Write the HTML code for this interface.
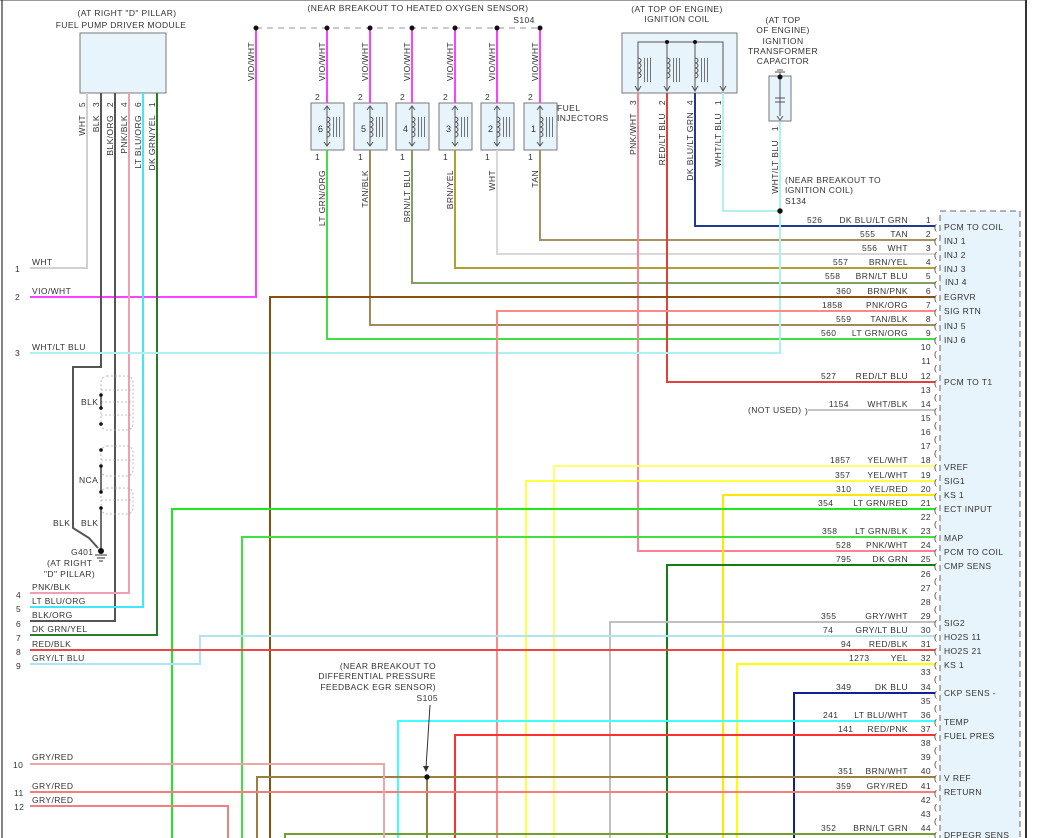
<!DOCTYPE html>
<html><head><meta charset="utf-8"><style>
html,body{margin:0;padding:0;background:#fff}
svg{display:block}
text{font-family:"Liberation Sans",Arial,sans-serif;font-size:8.5px;fill:#333;letter-spacing:0.4px}
.w{fill:none;stroke-width:2}
</style></head><body>
<svg width="1042" height="838" viewBox="0 0 1042 838" xmlns="http://www.w3.org/2000/svg">
<rect x="0" y="0" width="1042" height="838" fill="#fff"/>
<line x1="0" y1="0.5" x2="1027" y2="0.5" stroke="#999" stroke-width="1"/>
<line x1="2" y1="0" x2="2" y2="838" stroke="#333" stroke-width="1.2"/>
<line x1="1026" y1="0" x2="1026" y2="838" stroke="#333" stroke-width="2"/>

<rect x="940" y="211" width="80" height="640" fill="#e8f4fc" stroke="#888" stroke-width="1.3" stroke-dasharray="6,4"/>

<text x="127" y="16" text-anchor="middle">(AT RIGHT "D" PILLAR)</text>
<text x="121" y="28" text-anchor="middle">FUEL PUMP DRIVER MODULE</text>
<rect x="80" y="33" width="86" height="60" fill="#e8f4fc" stroke="#777" stroke-width="1"/>

<text x="418" y="11" text-anchor="middle">(NEAR BREAKOUT TO HEATED OXYGEN SENSOR)</text>
<text x="524" y="23" text-anchor="middle">S104</text>
<line x1="256" y1="28" x2="540" y2="28" stroke="#aaa" stroke-width="1.3" stroke-dasharray="6,5"/>

<text x="677" y="12" text-anchor="middle">(AT TOP OF ENGINE)</text>
<text x="677" y="22" text-anchor="middle">IGNITION COIL</text>
<rect x="622" y="33" width="115" height="60" fill="#e8f4fc" stroke="#777" stroke-width="1"/>
<polyline points="638,90 638,42 723,42 723,90" fill="none" stroke="#555" stroke-width="1"/>
<line x1="667" y1="42" x2="667" y2="90" stroke="#555" stroke-width="1"/>
<line x1="695" y1="42" x2="695" y2="90" stroke="#555" stroke-width="1"/>
<circle cx="667" cy="42" r="2" fill="#111"/><circle cx="695" cy="42" r="2" fill="#111"/>
<g fill="none" stroke="#555" stroke-width="1">
<path d="M638 58 a3 2.5 0 0 1 0 5 a3 2.5 0 0 1 0 5 a3 2.5 0 0 1 0 5 a3 2.5 0 0 1 0 5"/>
<path d="M667 58 a3 2.5 0 0 1 0 5 a3 2.5 0 0 1 0 5 a3 2.5 0 0 1 0 5 a3 2.5 0 0 1 0 5"/>
<path d="M695 58 a3 2.5 0 0 1 0 5 a3 2.5 0 0 1 0 5 a3 2.5 0 0 1 0 5 a3 2.5 0 0 1 0 5"/>
<path stroke-width="0.8" d="M644.5 58v24M647.5 58v24M650.5 58v24M673.5 58v24M676.5 58v24M679.5 58v24M701.5 58v24M704.5 58v24M707.5 58v24"/>
<path d="M635 86l3 5l3 -5M664 86l3 5l3 -5M692 86l3 5l3 -5M720 86l3 5l3 -5"/>
</g>

<text x="783" y="23" text-anchor="middle">(AT TOP</text>
<text x="783" y="33" text-anchor="middle">OF ENGINE)</text>
<text x="783" y="44" text-anchor="middle">IGNITION</text>
<text x="783" y="54" text-anchor="middle">TRANSFORMER</text>
<text x="783" y="64" text-anchor="middle">CAPACITOR</text>
<rect x="769" y="76" width="22" height="45" fill="#e8f4fc" stroke="#777" stroke-width="1"/>
<g stroke="#555" stroke-width="1" fill="none">
<path d="M780 72v44M775 98h10M775 102h10M775 72h10M777 70h6M777 116l3 4l3 -4"/>
</g>
<circle cx="780" cy="77" r="2.5" fill="#111"/>
<text x="785" y="183">(NEAR BREAKOUT TO</text>
<text x="785" y="193">IGNITION COIL)</text>
<text x="785" y="204">S134</text>

<g fill="#e8f4fc" stroke="#777" stroke-width="1">
<rect x="311" y="103" width="33" height="47"/>
<rect x="354" y="103" width="33" height="47"/>
<rect x="396" y="103" width="33" height="47"/>
<rect x="439" y="103" width="33" height="47"/>
<rect x="481" y="103" width="33" height="47"/>
<rect x="524" y="103" width="33" height="47"/>
</g>
<g fill="none" stroke="#555" stroke-width="1">
<path d="M327 106v40M370 106v40M412 106v40M455 106v40M497 106v40M540 106v40"/>
<path d="M327 117 a3 2.5 0 0 1 0 5 a3 2.5 0 0 1 0 5 a3 2.5 0 0 1 0 5 a3 2.5 0 0 1 0 5"/>
<path d="M370 117 a3 2.5 0 0 1 0 5 a3 2.5 0 0 1 0 5 a3 2.5 0 0 1 0 5 a3 2.5 0 0 1 0 5"/>
<path d="M412 117 a3 2.5 0 0 1 0 5 a3 2.5 0 0 1 0 5 a3 2.5 0 0 1 0 5 a3 2.5 0 0 1 0 5"/>
<path d="M455 117 a3 2.5 0 0 1 0 5 a3 2.5 0 0 1 0 5 a3 2.5 0 0 1 0 5 a3 2.5 0 0 1 0 5"/>
<path d="M497 117 a3 2.5 0 0 1 0 5 a3 2.5 0 0 1 0 5 a3 2.5 0 0 1 0 5 a3 2.5 0 0 1 0 5"/>
<path d="M540 117 a3 2.5 0 0 1 0 5 a3 2.5 0 0 1 0 5 a3 2.5 0 0 1 0 5 a3 2.5 0 0 1 0 5"/>
<path stroke-width="0.8" d="M333.5 117v20M336.5 117v20M339.5 117v20M376.5 117v20M379.5 117v20M382.5 117v20M418.5 117v20M421.5 117v20M424.5 117v20M461.5 117v20M464.5 117v20M467.5 117v20M503.5 117v20M506.5 117v20M509.5 117v20M546.5 117v20M549.5 117v20M552.5 117v20"/>
<path d="M324 110l3 -4l3 4M367 110l3 -4l3 4M409 110l3 -4l3 4M452 110l3 -4l3 4M494 110l3 -4l3 4M537 110l3 -4l3 4"/>
<path d="M324 142l3 4l3 -4M367 142l3 4l3 -4M409 142l3 4l3 -4M452 142l3 4l3 -4M494 142l3 4l3 -4M537 142l3 4l3 -4"/>
</g>
<text x="318" y="132" style="font-size:9px">6</text><text x="361" y="132" style="font-size:9px">5</text>
<text x="403" y="132" style="font-size:9px">4</text><text x="446" y="132" style="font-size:9px">3</text>
<text x="488" y="132" style="font-size:9px">2</text><text x="531" y="132" style="font-size:9px">1</text>
<g>
<text x="315" y="100">2</text><text x="358" y="100">2</text><text x="400" y="100">2</text><text x="443" y="100">2</text><text x="485" y="100">2</text><text x="528" y="100">2</text>
<text x="315" y="160">1</text><text x="358" y="160">1</text><text x="400" y="160">1</text><text x="443" y="160">1</text><text x="485" y="160">1</text><text x="528" y="160">1</text>
</g>
<text x="557" y="111">FUEL</text><text x="557" y="121">INJECTORS</text>

<g class="w">
<polyline class="w" stroke="#ff40ff" points="256,28 256,297 30,297"/>
<path class="w" stroke="#ff40ff" d="M327 28V103M370 28V103M412 28V103M455 28V103M497 28V103M540 28V103"/>
<polyline class="w" stroke="#d0d0d0" points="87,93 87,268 30,268"/>
<polyline class="w" stroke="#555" points="101,93 101,367 73,367 73,528 89,538 98,548"/>
<polyline class="w" stroke="#e0904a" stroke-width="3" points="115,93 115,621 30,621"/>
<polyline class="w" stroke="#555" stroke-width="1.5" points="115,93 115,621 30,621"/>
<polyline class="w" stroke="#f0a0b0" points="129,93 129,593 30,593"/>
<polyline class="w" stroke="#ffb060" stroke-width="3" points="143,93 143,607 30,607"/>
<polyline class="w" stroke="#40e8f8" stroke-width="1.5" points="143,93 143,607 30,607"/>
<polyline class="w" stroke="#e8e840" stroke-width="3" points="157,93 157,635 30,635"/>
<polyline class="w" stroke="#2a7a2a" stroke-width="1.5" points="157,93 157,635 30,635"/>
<polyline class="w" stroke="#40e040" points="327,150 327,339 935,339"/>
<polyline class="w" stroke="#a08a5a" points="370,150 370,325 935,325"/>
<polyline class="w" stroke="#7fa060" points="412,150 412,283 935,283"/>
<polyline class="w" stroke="#b0a030" points="455,150 455,268 935,268"/>
<polyline class="w" stroke="#d8d8d8" points="497,150 497,254 935,254"/>
<polyline class="w" stroke="#a89060" points="540,150 540,240 935,240"/>
<polyline class="w" stroke="#ff8090" points="638,93 638,551 935,551"/>
<polyline class="w" stroke="#90e0e0" stroke-width="3" points="667,93 667,382 935,382"/>
<polyline class="w" stroke="#e04040" stroke-width="1.5" points="667,93 667,382 935,382"/>
<polyline class="w" stroke="#50d050" stroke-width="3" points="695,93 695,226 935,226"/>
<polyline class="w" stroke="#203a90" stroke-width="1.5" points="695,93 695,226 935,226"/>
<polyline class="w" stroke="#b0f0f0" points="723,93 723,211 780,211"/>
<polyline class="w" stroke="#b0f0f0" points="780,122 780,353 30,353"/>
<polyline class="w" stroke="#8a5010" points="270,838 270,297 935,297"/>
<polyline class="w" stroke="#ff8888" points="497,838 497,311 935,311"/>
<line x1="808" y1="410" x2="935" y2="410" stroke="#888" stroke-width="1"/>
<polyline class="w" stroke="#ffff70" points="554,838 554,466 935,466"/>
<polyline class="w" stroke="#ffff40" points="526,838 526,481 935,481"/>
<polyline class="w" stroke="#ff9090" stroke-width="3" points="723,838 723,495 935,495"/>
<polyline class="w" stroke="#ffe800" stroke-width="1.5" points="723,838 723,495 935,495"/>
<polyline class="w" stroke="#ff8080" stroke-width="3" points="172,838 172,509 935,509"/>
<polyline class="w" stroke="#20e820" stroke-width="1.8" points="172,838 172,509 935,509"/>
<polyline class="w" stroke="#40e040" points="242,838 242,537 935,537"/>
<polyline class="w" stroke="#108010" points="667,838 667,565 935,565"/>
<polyline class="w" stroke="#c0c0c0" points="610,838 610,622 935,622"/>
<polyline class="w" stroke="#b0e4f0" points="30,664 200,664 200,636 935,636"/>
<polyline class="w" stroke="#e84848" stroke-width="2.5" points="30,650 935,650"/>
<polyline class="w" stroke="#ffff00" points="737,838 737,664 935,664"/>
<polyline class="w" stroke="#10209a" points="794,838 794,693 935,693"/>
<polyline class="w" stroke="#40ffff" points="398,838 398,721 935,721"/>
<polyline class="w" stroke="#ff3030" points="455,838 455,735 935,735"/>
<polyline class="w" stroke="#9a8040" points="257,838 257,777 935,777"/>
<line x1="427" y1="777" x2="427" y2="838" stroke="#9a8040" stroke-width="2"/>
<polyline class="w" stroke="#f08080" points="30,792 935,792"/>
<polyline class="w" stroke="#70a030" points="285,838 285,834 935,834"/>
<polyline class="w" stroke="#e8a8a8" points="30,764 384,764 384,838"/>
<polyline class="w" stroke="#f08080" points="30,806 228,806 228,838"/>
</g>

<g fill="#111">
<circle cx="256" cy="28" r="2.5"/><circle cx="327" cy="28" r="2.5"/><circle cx="370" cy="28" r="2.5"/><circle cx="412" cy="28" r="2.5"/><circle cx="455" cy="28" r="2.5"/><circle cx="497" cy="28" r="2.5"/><circle cx="540" cy="28" r="2.5"/>
<circle cx="780" cy="211" r="2.7"/><circle cx="427" cy="777" r="2.7"/>
</g>

<text x="436" y="669" text-anchor="end">(NEAR BREAKOUT TO</text>
<text x="436" y="679" text-anchor="end">DIFFERENTIAL PRESSURE</text>
<text x="436" y="690" text-anchor="end">FEEDBACK EGR SENSOR)</text>
<text x="438" y="701" text-anchor="end">S105</text>
<line x1="430" y1="705" x2="426" y2="768" stroke="#333" stroke-width="1"/>
<path d="M423 766l3 6l3 -6z" fill="#333"/>

<g fill="none" stroke="#aaa" stroke-width="0.8" stroke-dasharray="2,2">
<rect x="101" y="376" width="32" height="54" rx="6"/>
<rect x="101" y="446" width="32" height="30" rx="6"/>
<rect x="101" y="488" width="32" height="26" rx="6"/>
<path d="M101 390h32M101 402h32M101 415h32M101 460h32M101 500h32"/>
</g>
<g stroke="#222" stroke-width="1.3">
<line x1="101" y1="395" x2="101" y2="408"/>
<line x1="101" y1="466" x2="101" y2="492"/>
<line x1="101" y1="508" x2="101" y2="550"/>
</g>
<g fill="#111">
<circle cx="101" cy="395" r="1.8"/><circle cx="101" cy="408" r="1.8"/><circle cx="101" cy="424" r="1.8"/>
<circle cx="101" cy="450" r="1.8"/><circle cx="101" cy="466" r="1.8"/><circle cx="101" cy="492" r="1.8"/><circle cx="101" cy="508" r="1.8"/>
<circle cx="101" cy="551" r="3"/>
</g>
<path d="M95 555h12M97 558h8M99 561h4" stroke="#333" stroke-width="1"/>
<text x="81" y="405">BLK</text>
<text x="79" y="483">NCA</text>
<text x="53" y="526">BLK</text><text x="81" y="526">BLK</text>
<text x="71" y="555">G401</text>
<text x="47" y="566">(AT RIGHT</text>
<text x="44" y="577">"D" PILLAR)</text>

<g>
<text x="32" y="265">WHT</text><text x="15" y="272">1</text>
<text x="32" y="294">VIO/WHT</text><text x="15" y="300">2</text>
<text x="32" y="350">WHT/LT BLU</text><text x="15" y="356">3</text>
<text x="32" y="590">PNK/BLK</text><text x="16" y="598">4</text>
<text x="32" y="604">LT BLU/ORG</text><text x="16" y="612">5</text>
<text x="32" y="618">BLK/ORG</text><text x="16" y="627">6</text>
<text x="32" y="632">DK GRN/YEL</text><text x="16" y="641">7</text>
<text x="32" y="647">RED/BLK</text><text x="16" y="655">8</text>
<text x="32" y="661">GRY/LT BLU</text><text x="16" y="669">9</text>
<text x="32" y="760">GRY/RED</text><text x="13" y="768">10</text>
<text x="32" y="789">GRY/RED</text><text x="14" y="796">11</text>
<text x="32" y="803">GRY/RED</text><text x="14" y="810">12</text>
</g>

<g>
<text transform="translate(85,102) rotate(-90)" text-anchor="end">5</text>
<text transform="translate(85,115) rotate(-90)" text-anchor="end">WHT</text>
<text transform="translate(99,102) rotate(-90)" text-anchor="end">3</text>
<text transform="translate(99,115) rotate(-90)" text-anchor="end">BLK</text>
<text transform="translate(113,102) rotate(-90)" text-anchor="end">2</text>
<text transform="translate(113,115) rotate(-90)" text-anchor="end">BLK/ORG</text>
<text transform="translate(127,102) rotate(-90)" text-anchor="end">4</text>
<text transform="translate(127,115) rotate(-90)" text-anchor="end">PNK/BLK</text>
<text transform="translate(141,102) rotate(-90)" text-anchor="end">6</text>
<text transform="translate(141,115) rotate(-90)" text-anchor="end">LT BLU/ORG</text>
<text transform="translate(155,102) rotate(-90)" text-anchor="end">1</text>
<text transform="translate(155,115) rotate(-90)" text-anchor="end">DK GRN/YEL</text>

<text transform="translate(254,42) rotate(-90)" text-anchor="end">VIO/WHT</text>
<text transform="translate(325,42) rotate(-90)" text-anchor="end">VIO/WHT</text>
<text transform="translate(368,42) rotate(-90)" text-anchor="end">VIO/WHT</text>
<text transform="translate(410,42) rotate(-90)" text-anchor="end">VIO/WHT</text>
<text transform="translate(453,42) rotate(-90)" text-anchor="end">VIO/WHT</text>
<text transform="translate(495,42) rotate(-90)" text-anchor="end">VIO/WHT</text>
<text transform="translate(538,42) rotate(-90)" text-anchor="end">VIO/WHT</text>

<text transform="translate(325,170) rotate(-90)" text-anchor="end">LT GRN/ORG</text>
<text transform="translate(368,170) rotate(-90)" text-anchor="end">TAN/BLK</text>
<text transform="translate(410,170) rotate(-90)" text-anchor="end">BRN/LT BLU</text>
<text transform="translate(453,170) rotate(-90)" text-anchor="end">BRN/YEL</text>
<text transform="translate(495,170) rotate(-90)" text-anchor="end">WHT</text>
<text transform="translate(538,170) rotate(-90)" text-anchor="end">TAN</text>

<text transform="translate(636,100) rotate(-90)" text-anchor="end">3</text>
<text transform="translate(636,113) rotate(-90)" text-anchor="end">PNK/WHT</text>
<text transform="translate(665,100) rotate(-90)" text-anchor="end">2</text>
<text transform="translate(665,113) rotate(-90)" text-anchor="end">RED/LT BLU</text>
<text transform="translate(693,100) rotate(-90)" text-anchor="end">4</text>
<text transform="translate(693,112) rotate(-90)" text-anchor="end">DK BLU/LT GRN</text>
<text transform="translate(721,100) rotate(-90)" text-anchor="end">1</text>
<text transform="translate(721,113) rotate(-90)" text-anchor="end">WHT/LT BLU</text>
<text transform="translate(778,126) rotate(-90)" text-anchor="end">1</text>
<text transform="translate(778,140) rotate(-90)" text-anchor="end">WHT/LT BLU</text>
</g>

<g text-anchor="end">
<text x="931" y="223">1</text><text x="931" y="237">2</text><text x="931" y="251">3</text><text x="931" y="265">4</text><text x="931" y="279">5</text>
<text x="931" y="294">6</text><text x="931" y="308">7</text><text x="931" y="322">8</text><text x="931" y="336">9</text><text x="931" y="350">10</text>
<text x="931" y="364">11</text><text x="931" y="379">12</text><text x="931" y="393">13</text><text x="931" y="407">14</text><text x="931" y="421">15</text>
<text x="931" y="435">16</text><text x="931" y="449">17</text><text x="931" y="463">18</text><text x="931" y="478">19</text><text x="931" y="492">20</text>
<text x="931" y="506">21</text><text x="931" y="520">22</text><text x="931" y="534">23</text><text x="931" y="548">24</text><text x="931" y="562">25</text>
<text x="931" y="577">26</text><text x="931" y="591">27</text><text x="931" y="605">28</text><text x="931" y="619">29</text><text x="931" y="633">30</text>
<text x="931" y="647">31</text><text x="931" y="661">32</text><text x="931" y="675">33</text><text x="931" y="690">34</text><text x="931" y="704">35</text>
<text x="931" y="718">36</text><text x="931" y="732">37</text><text x="931" y="746">38</text><text x="931" y="760">39</text><text x="931" y="774">40</text>
<text x="931" y="789">41</text><text x="931" y="803">42</text><text x="931" y="817">43</text><text x="931" y="831">44</text>
</g>
<g style="font-size:11px" fill="#555">
<text x="934" y="230">(</text><text x="934" y="244">(</text><text x="934" y="258">(</text><text x="934" y="272">(</text><text x="934" y="287">(</text>
<text x="934" y="301">(</text><text x="934" y="315">(</text><text x="934" y="329">(</text><text x="934" y="343">(</text><text x="934" y="357">(</text>
<text x="934" y="371">(</text><text x="934" y="386">(</text><text x="934" y="400">(</text><text x="934" y="414">(</text><text x="934" y="428">(</text>
<text x="934" y="442">(</text><text x="934" y="456">(</text><text x="934" y="470">(</text><text x="934" y="485">(</text><text x="934" y="499">(</text>
<text x="934" y="513">(</text><text x="934" y="527">(</text><text x="934" y="541">(</text><text x="934" y="555">(</text><text x="934" y="569">(</text>
<text x="934" y="584">(</text><text x="934" y="598">(</text><text x="934" y="612">(</text><text x="934" y="626">(</text><text x="934" y="640">(</text>
<text x="934" y="654">(</text><text x="934" y="668">(</text><text x="934" y="682">(</text><text x="934" y="697">(</text><text x="934" y="711">(</text>
<text x="934" y="725">(</text><text x="934" y="739">(</text><text x="934" y="753">(</text><text x="934" y="767">(</text><text x="934" y="781">(</text>
<text x="934" y="796">(</text><text x="934" y="810">(</text><text x="934" y="824">(</text><text x="934" y="838">(</text>
<text x="805" y="414">)</text>
</g>
<text x="748" y="413">(NOT USED)</text>

<g>
<text x="944" y="230">PCM TO COIL</text><text x="944" y="244">INJ 1</text><text x="944" y="258">INJ 2</text>
<text x="944" y="272">INJ 3</text><text x="945" y="285">INJ 4</text><text x="944" y="300">EGRVR</text>
<text x="944" y="314">SIG RTN</text><text x="944" y="329">INJ 5</text><text x="944" y="343">INJ 6</text>
<text x="944" y="385">PCM TO T1</text><text x="944" y="470">VREF</text><text x="944" y="484">SIG1</text>
<text x="944" y="498">KS 1</text><text x="944" y="512">ECT INPUT</text><text x="944" y="541">MAP</text>
<text x="944" y="555">PCM TO COIL</text><text x="944" y="569">CMP SENS</text><text x="944" y="626">SIG2</text>
<text x="944" y="640">HO2S 11</text><text x="944" y="654">HO2S 21</text><text x="944" y="668">KS 1</text>
<text x="944" y="696">CKP SENS -</text><text x="944" y="725">TEMP</text><text x="944" y="739">FUEL PRES</text>
<text x="944" y="781">V REF</text><text x="944" y="795">RETURN</text><text x="944" y="838">DFPEGR SENS</text>
</g>

<g>
<text x="807" y="223">526</text><text x="908" y="223" text-anchor="end">DK BLU/LT GRN</text>
<text x="860" y="237">555</text><text x="908" y="237" text-anchor="end">TAN</text>
<text x="862" y="251">556</text><text x="908" y="251" text-anchor="end">WHT</text>
<text x="833" y="265">557</text><text x="908" y="265" text-anchor="end">BRN/YEL</text>
<text x="825" y="279">558</text><text x="908" y="279" text-anchor="end">BRN/LT BLU</text>
<text x="836" y="294">360</text><text x="908" y="294" text-anchor="end">BRN/PNK</text>
<text x="822" y="308">1858</text><text x="908" y="308" text-anchor="end">PNK/ORG</text>
<text x="836" y="322">559</text><text x="908" y="322" text-anchor="end">TAN/BLK</text>
<text x="821" y="336">560</text><text x="908" y="336" text-anchor="end">LT GRN/ORG</text>
<text x="821" y="379">527</text><text x="908" y="379" text-anchor="end">RED/LT BLU</text>
<text x="829" y="407">1154</text><text x="908" y="407" text-anchor="end">WHT/BLK</text>
<text x="830" y="463">1857</text><text x="908" y="463" text-anchor="end">YEL/WHT</text>
<text x="835" y="478">357</text><text x="908" y="478" text-anchor="end">YEL/WHT</text>
<text x="836" y="492">310</text><text x="908" y="492" text-anchor="end">YEL/RED</text>
<text x="818" y="506">354</text><text x="908" y="506" text-anchor="end">LT GRN/RED</text>
<text x="822" y="534">358</text><text x="908" y="534" text-anchor="end">LT GRN/BLK</text>
<text x="836" y="548">528</text><text x="908" y="548" text-anchor="end">PNK/WHT</text>
<text x="836" y="562">795</text><text x="908" y="562" text-anchor="end">DK GRN</text>
<text x="821" y="619">355</text><text x="908" y="619" text-anchor="end">GRY/WHT</text>
<text x="823" y="633">74</text><text x="908" y="633" text-anchor="end">GRY/LT BLU</text>
<text x="841" y="647">94</text><text x="908" y="647" text-anchor="end">RED/BLK</text>
<text x="849" y="661">1273</text><text x="908" y="661" text-anchor="end">YEL</text>
<text x="836" y="690">349</text><text x="908" y="690" text-anchor="end">DK BLU</text>
<text x="823" y="718">241</text><text x="908" y="718" text-anchor="end">LT BLU/WHT</text>
<text x="838" y="732">141</text><text x="908" y="732" text-anchor="end">RED/PNK</text>
<text x="838" y="774">351</text><text x="908" y="774" text-anchor="end">BRN/WHT</text>
<text x="836" y="789">359</text><text x="908" y="789" text-anchor="end">GRY/RED</text>
<text x="821" y="831">352</text><text x="908" y="831" text-anchor="end">BRN/LT GRN</text>
</g>
</svg>
</body></html>
